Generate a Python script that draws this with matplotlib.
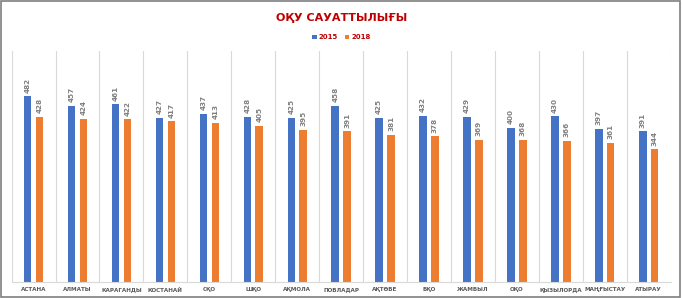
import numpy as np
import matplotlib.pyplot as plt
from matplotlib.patches import Rectangle

regions = ["АСТАНА", "АЛМАТЫ", "КАРАГАНДЫ", "КОСТАНАЙ", "СҚО", "ШҚО", "АҚМОЛА",
           "ПОВЛАДАР", "АҚТӨБЕ", "БҚО", "ЖАМБЫЛ", "ОҚО", "ҚЫЗЫЛОРДА", "МАҢҒЫСТАУ", "АТЫРАУ"]
vals_2015 = [482, 457, 461, 427, 437, 428, 425, 458, 425, 432, 429, 400, 430, 397, 391]
vals_2018 = [428, 424, 422, 417, 413, 405, 395, 391, 381, 378, 369, 368, 366, 361, 344]

blue = "#4472C4"
orange = "#ED7D31"
red = "#C00000"

fig = plt.figure(figsize=(6.83, 2.98), dpi=100)
ax = fig.add_axes([0.017, 0.054, 0.965, 0.775])

x = np.arange(len(regions))
w = 0.17
gap = 0.1
b1 = ax.bar(x - (w + gap) / 2, vals_2015, w, color=blue, label="2015")
b2 = ax.bar(x + (w + gap) / 2, vals_2018, w, color=orange, label="2018")

for bars in (b1, b2):
    for r in bars:
        ax.text(r.get_x() + r.get_width() / 2, r.get_height() + 10, str(int(r.get_height())),
                rotation=90, ha="center", va="bottom", fontsize=5.2, color="#808080",
                fontweight="bold")

ax.set_xlim(-0.5, len(regions) - 0.5)
ax.set_ylim(0, 600)
for i in range(len(regions) + 1):
    ax.axvline(i - 0.5, color="#d9d9d9", lw=0.8, zorder=0)
ax.set_yticks([])
ax.set_xticks(x)
ax.set_xticklabels(regions, fontsize=4.1, color="#595959", fontweight="bold")
ax.tick_params(axis="x", length=0, pad=4)
for s in ax.spines.values():
    s.set_visible(False)
ax.spines["bottom"].set_visible(True)
ax.spines["bottom"].set_color("#d9d9d9")

fig.text(0.5, 0.94, "ОҚУ САУАТТЫЛЫҒЫ", ha="center", va="center", fontsize=8,
         fontweight="bold", color=red)
leg = fig.legend(loc="center", bbox_to_anchor=(0.5, 0.875), ncol=2, frameon=False,
                 prop={"size": 5, "weight": "bold"},
                 handlelength=0.6, handleheight=0.6, columnspacing=1.0,
                 handletextpad=0.3)
for t in leg.get_texts():
    t.set_color(red)

fig.patches.append(Rectangle((0.002, 0.005), 0.994, 0.99, transform=fig.transFigure,
                             fill=False, edgecolor="#7f7f7f", lw=1.2))

fig.savefig("out.png", dpi=100)
